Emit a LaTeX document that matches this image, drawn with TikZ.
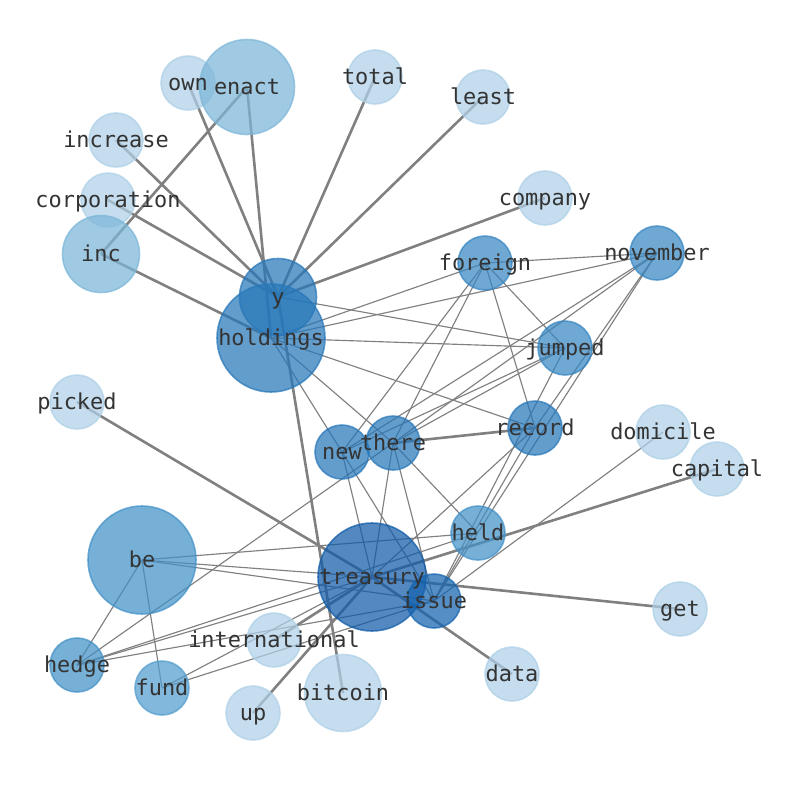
\documentclass[tikz,border=0pt]{standalone}
\usepackage{fontspec}
\newfontfamily\labelfont{DejaVu Sans Mono}
\pgfdeclarelayer{edges}
\pgfdeclarelayer{labels}
\pgfsetlayers{edges,main,labels}
\definecolor{cLight}{RGB}{174,208,231}
\definecolor{cMid}{RGB}{124,182,216}
\definecolor{cFund}{RGB}{82,156,206}
\definecolor{cBe}{RGB}{66,145,199}
\definecolor{cFor}{RGB}{54,134,194}
\definecolor{cHold}{RGB}{39,119,185}
\definecolor{cIssue}{RGB}{20,99,175}
\definecolor{cTreas}{RGB}{16,91,168}
\definecolor{edgegray}{RGB}{128,128,128}
\definecolor{labelgray}{RGB}{51,51,51}
\tikzset{
  vert/.style={circle, inner sep=0pt, minimum size=#1, line width=1.6pt, fill opacity=0.72, draw opacity=0.72},
  light/.style={vert=54pt, fill=cLight, draw=cLight},
  lbl/.style={font=\labelfont\fontsize{21.9}{24}\selectfont, text=labelgray, inner sep=0pt, text height=0.76em, text depth=0.24em, anchor=center, yshift=-4.5pt},
  thickedge/.style={draw=edgegray, line width=2.6pt},
  thinedge/.style={draw=edgegray, line width=1.15pt}
}
\begin{document}
\begin{tikzpicture}[x=1pt,y=-1pt]
\useasboundingbox (0,0) rectangle (794,790);
% nodes
\node[light] (own) at (188,83) {};
\node[vert=95pt, fill=cMid, draw=cMid] (enact) at (247,87) {};
\node[light] (total) at (375,77) {};
\node[light] (least) at (483,97) {};
\node[light] (increase) at (116,140) {};
\node[light] (corporation) at (108,200) {};
\node[light] (company) at (545,198) {};
\node[vert=77pt, fill=cMid, draw=cMid] (inc) at (101,254) {};
\node[vert=54pt, fill=cFor, draw=cFor] (foreign) at (485,263) {};
\node[vert=54pt, fill=cFor, draw=cFor] (november) at (657,253) {};
\node[vert=77pt, fill=cHold, draw=cHold] (y) at (278,297) {};
\node[vert=108pt, fill=cHold, draw=cHold] (holdings) at (271,338) {};
\node[vert=54pt, fill=cFor, draw=cFor] (jumped) at (565,348) {};
\node[light] (picked) at (77,402) {};
\node[vert=54pt, fill=cHold, draw=cHold] (record) at (535,428) {};
\node[light] (domicile) at (663,432) {};
\node[vert=54pt, fill=cHold, draw=cHold] (there) at (393,443) {};
\node[vert=54pt, fill=cHold, draw=cHold] (new) at (342,452) {};
\node[light] (capital) at (717,469) {};
\node[vert=54pt, fill=cBe, draw=cBe] (held) at (478,533) {};
\node[vert=108pt, fill=cBe, draw=cBe] (be) at (142,560) {};
\node[vert=108pt, fill=cTreas, draw=cTreas] (treasury) at (372,577) {};
\node[vert=54pt, fill=cIssue, draw=cIssue] (issue) at (434,601) {};
\node[light] (get) at (680,609) {};
\node[light] (international) at (274,640) {};
\node[vert=54pt, fill=cBe, draw=cBe] (hedge) at (77,665) {};
\node[vert=54pt, fill=cFund, draw=cFund] (fund) at (162,688) {};
\node[light] (data) at (512,674) {};
\node[vert=77pt, fill=cLight, draw=cLight] (bitcoin) at (343,693) {};
\node[light] (up) at (253,713) {};
% edges
\begin{pgfonlayer}{edges}
\foreach \a/\b in {y/own, y/increase, y/corporation, y/total, y/least, y/company, y/bitcoin,
  enact/holdings, enact/inc, inc/holdings, picked/treasury, treasury/data, treasury/get,
  treasury/capital, treasury/up, treasury/international, there/record}
  \draw[thickedge] (\a.center) -- (\b.center);
\foreach \a/\b in {holdings/foreign, holdings/november, holdings/jumped, holdings/record,
  holdings/new, holdings/there, y/jumped,
  foreign/november, foreign/jumped, foreign/record, foreign/new, foreign/there,
  november/new, november/there, november/record, november/issue,
  jumped/new, jumped/there, jumped/issue,
  record/issue, record/treasury,
  there/treasury, there/issue, there/held, there/hedge,
  new/treasury, new/issue,
  be/held, be/treasury, be/issue, be/hedge, be/fund,
  hedge/treasury, hedge/issue, hedge/held,
  fund/treasury, fund/issue, domicile/issue}
  \draw[thinedge] (\a.center) -- (\b.center);
\end{pgfonlayer}
% labels
\begin{pgfonlayer}{labels}
\foreach \n in {own, enact, total, least, increase, corporation, company, inc, foreign,
  november, y, holdings, jumped, picked, record, domicile, there, new, capital, held, be,
  treasury, issue, get, international, hedge, fund, data, bitcoin, up}
  \node[lbl] (lbl-\n) at (\n.center) {\n};
\end{pgfonlayer}
\end{tikzpicture}
\end{document}
